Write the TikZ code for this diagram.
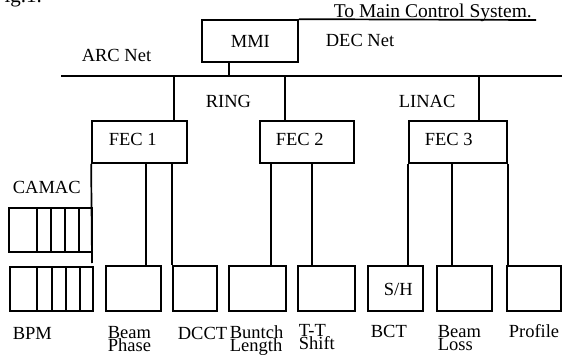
\documentclass[tikz,border=0pt]{standalone}
\usepackage{fontspec}
\setmainfont{Liberation Serif}
\newcommand{\mytwolines}[2]{\vtop{\baselineskip=13.5pt\lineskiplimit=-100pt\hbox{#1}\hbox{#2}}}
\begin{document}
\begin{tikzpicture}[x=1pt,y=-1pt, line width=1.7pt,
  box/.style={draw, rectangle, inner sep=0pt, line width=1.7pt},
  lbl/.style={anchor=base west, inner sep=0pt, font=\fontsize{18.5}{13}\selectfont}]
\useasboundingbox (0,0) rectangle (562,361);

% boxes
\node[box, minimum width=96pt, minimum height=42pt] (mmi) at (250,41) {};
\node[box, minimum width=95pt, minimum height=42pt] (fec1) at (139.5,142) {};
\node[box, minimum width=94pt, minimum height=42pt] (fec2) at (307,142) {};
\node[box, minimum width=98pt, minimum height=42pt] (fec3) at (458,142) {};
\node[box, minimum width=83pt, minimum height=44pt] (rackA) at (50.5,230) {};
\node[box, minimum width=83pt, minimum height=44pt] (rackB) at (51.5,289) {};
\node[box, minimum width=55pt, minimum height=45pt] (bph) at (133.5,288.5) {};
\node[box, minimum width=44pt, minimum height=45pt] (dcct) at (195,288.5) {};
\node[box, minimum width=57pt, minimum height=45pt] (blen) at (257.5,288.5) {};
\node[box, minimum width=57pt, minimum height=45pt] (tts) at (326.5,288.5) {};
\node[box, minimum width=55pt, minimum height=45pt] (bct) at (395.5,288.5) {};
\node[box, minimum width=55pt, minimum height=45pt] (bloss) at (464.5,288.5) {};
\node[box, minimum width=54pt, minimum height=45pt] (prof) at (534,288.5) {};

% rack dividers
\foreach \x in {37,51,65,79} \draw (\x,208) -- (\x,252);
\foreach \x in {37,52,66,80} \draw (\x,267) -- (\x,311);

% buses
\coordinate (topR) at (536,20);
\draw (mmi.north east) -- (topR);
\coordinate (arcL) at (61,76);
\coordinate (arcR) at (562,76);
\draw (arcL) -- (arcR);
\coordinate (m1) at (229,76);
\draw (m1 |- mmi.south) -- (m1);
\coordinate (d1) at (174,76);
\coordinate (d2) at (285,76);
\coordinate (d3) at (479,76);
\draw (d1) -- (d1 |- fec1.north);
\draw (d2) -- (d2 |- fec2.north);
\draw (d3) -- (d3 |- fec3.north);

% lower connectors
\coordinate (q1) at (146,0);
\coordinate (q2) at (271,0);
\coordinate (q3) at (312,0);
\coordinate (q4) at (452,0);
\coordinate (cEnd) at (92,263);
\draw (fec1.south west) -- (cEnd);
\draw (q1 |- fec1.south) -- (q1 |- bph.north);
\draw (dcct.north west |- fec1.south) -- (dcct.north west);
\draw (q2 |- fec2.south) -- (q2 |- blen.north);
\draw (q3 |- fec2.south) -- (q3 |- tts.north);
\draw (fec3.south west) -- (fec3.south west |- bct.north);
\draw (q4 |- fec3.south) -- (q4 |- bloss.north);
\draw (fec3.south east) -- (fec3.south east |- prof.north);

% texts
\node[lbl, font=\fontsize{21}{21}\selectfont] (fig) at (-8,3) {Fig.1.};
\node[lbl, font=\fontsize{19.5}{19.5}\selectfont] (tmcs) at (333,18) {To Main Control System.};
\node[lbl] (tmmi) at (230,48) {MMI};
\node[lbl] (tdec) at (325,47) {DEC Net};
\node[lbl, anchor=base east] (tarc) at (152,62) {ARC Net};
\node[lbl] (tring) at (205,107) {RING};
\node[lbl] (tlinac) at (398,107) {LINAC};
\node[lbl] (tf1) at (108,145) {FEC 1};
\node[lbl] (tf2) at (275,145) {FEC 2};
\node[lbl] (tf3) at (424,145) {FEC 3};
\node[lbl] (tcamac) at (12,193) {CAMAC};
\node[lbl] (tsh) at (383,295) {S/H};
\node[lbl] (tbpm) at (12,339) {BPM};
\node[lbl] (tbph) at (107,338) {\mytwolines{Beam}{Phase}};
\node[lbl] (tdcct) at (177,339) {DCCT};
\node[lbl] (tblen) at (229,338) {\mytwolines{Buntch}{Length}};
\node[lbl] (ttts) at (298,336) {\mytwolines{T-T}{Shift}};
\node[lbl] (tbct) at (370,337) {BCT};
\node[lbl] (tbloss) at (437,337) {\mytwolines{Beam}{Loss}};
\node[lbl] (tprof) at (508,337) {Profile};
\end{tikzpicture}
\end{document}
